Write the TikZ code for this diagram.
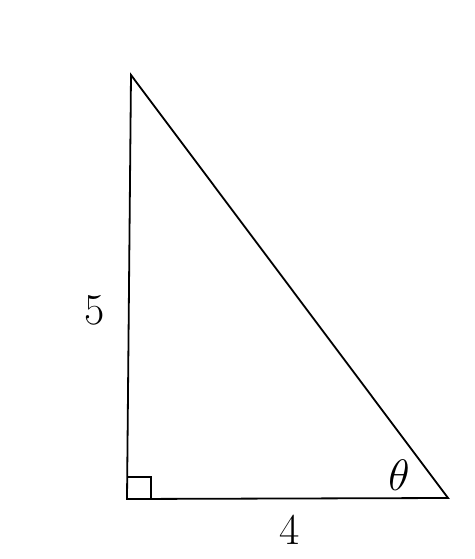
\RequirePackage{fix-cm}
\documentclass[tikz,border=0pt]{standalone}
\begin{document}
\begin{tikzpicture}[x=1pt,y=-1pt,
  edge/.style={line width=1.8pt,line join=miter},
  lbl/.style={inner sep=0pt,font=\fontsize{44}{50}\selectfont}]
\useasboundingbox (0,0) rectangle (474,559);
\coordinate (A) at (131,75);
\coordinate (B) at (127,499);
\coordinate (C) at (448,498);
\draw[edge] (A) -- (B) -- (C) -- cycle;
\draw[line width=1.5pt] (127,477) -- (151,477) -- (151,499);
\node[lbl] (five) at (95,310) {5};
\node[lbl] (four) at (290,530) {4};
\node[lbl] (theta) at (399,475) {$\theta$};
\end{tikzpicture}
\end{document}
